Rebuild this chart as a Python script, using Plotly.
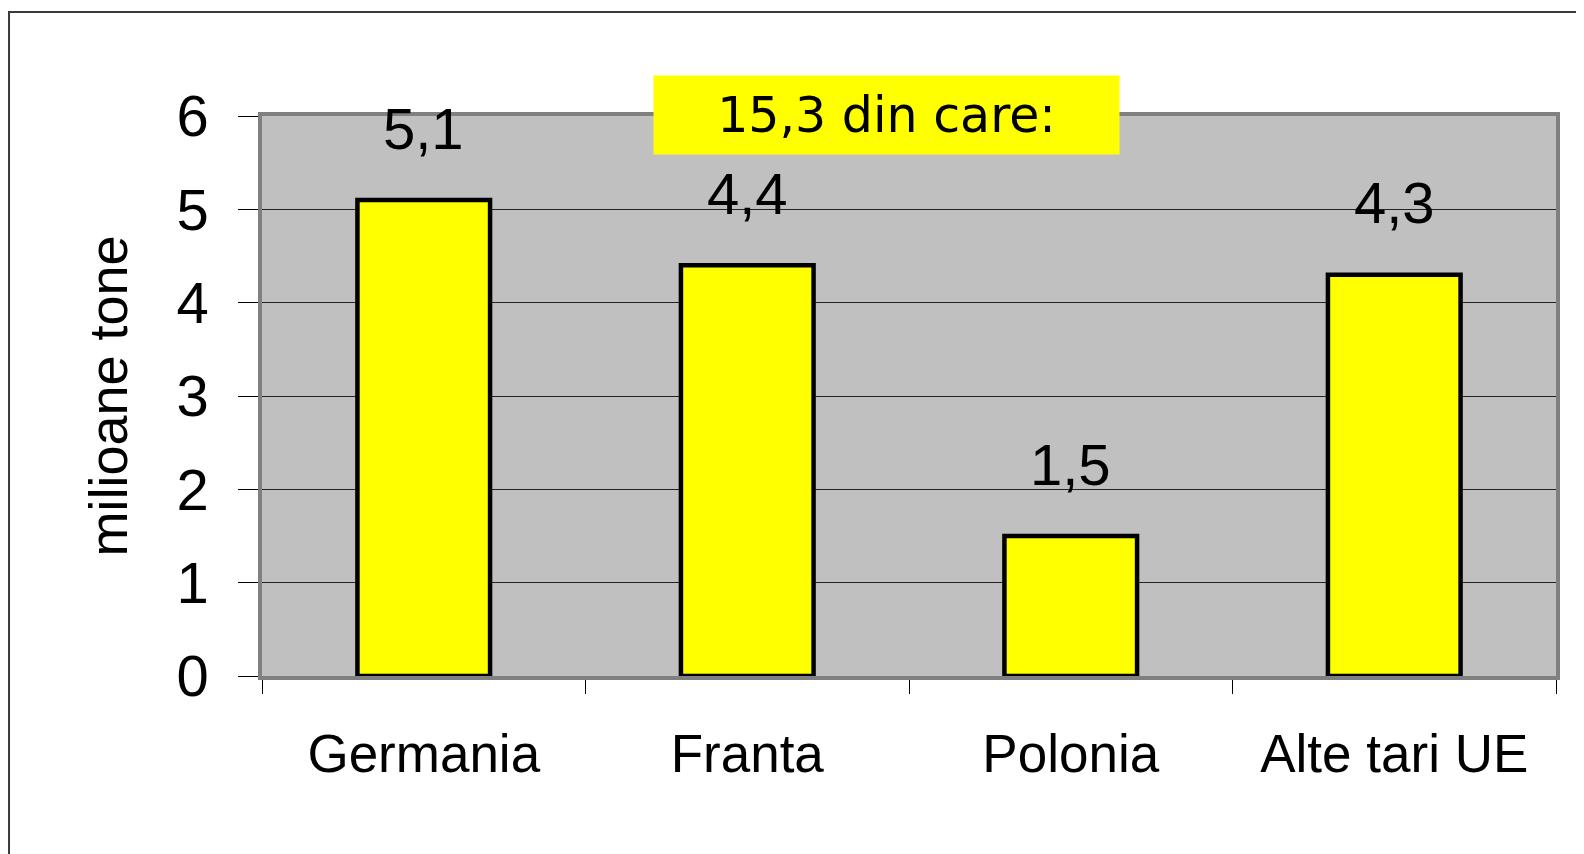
import plotly.graph_objects as go

categories = ["Germania", "Franta", "Polonia", "Alte tari UE"]
values = [5.1, 4.4, 1.5, 4.3]
total_label = "15,3 din care:"
y_title = "milioane tone"
y_ticks = [0, 1, 2, 3, 4, 5, 6]

ARIAL = "Liberation Sans, Arial, sans-serif"
VERDANA = "DejaVu Sans, Verdana, sans-serif"

fig = go.Figure()
fig.add_trace(go.Bar(
    x=categories, y=values,
    width=0.41,
    marker=dict(color="#FFFF00", line=dict(color="#000000", width=4.5)),
    hoverinfo="x+y",
))

annotations = []
for c, v in zip(categories, values):
    annotations.append(dict(
        x=c, y=v, xref="x", yref="y",
        text=f"{v:.1f}".replace(".", ","),
        showarrow=False, yanchor="middle", yshift=72,
        font=dict(family=ARIAL, size=58, color="#000000"),
    ))

annotations.append(dict(
    xref="paper", yref="paper", x=0.4826, y=1.0018,
    xanchor="center", yanchor="middle",
    text=total_label, showarrow=False,
    bgcolor="#FFFF00", width=465, height=78, borderpad=0,
    font=dict(family=VERDANA, size=49, color="#000000"),
))

fig.update_layout(
    width=1584, height=854,
    margin=dict(l=254, r=36, t=108, b=186),
    paper_bgcolor="#FFFFFF",
    plot_bgcolor="#C0C0C0",
    showlegend=False,
    annotations=annotations,
    shapes=[dict(
        type="rect", xref="paper", yref="paper",
        x0=-0.1955, x1=1.04, y0=-0.4, y1=1.1857,
        line=dict(color="#3a3a3a", width=2), fillcolor="rgba(0,0,0,0)",
        layer="below",
    )],
)

fig.update_xaxes(
    type="category",
    showline=True, linecolor="#808080", linewidth=3.5, mirror=True,
    showgrid=False,
    ticks="outside", tickson="boundaries", ticklen=14, tickwidth=1, tickcolor="#000000",
    tickfont=dict(family=ARIAL, size=53, color="#000000"),
    ticklabelstandoff=29,
)

fig.update_yaxes(
    range=[0, 6], tickvals=y_ticks, ticktext=[str(t) for t in y_ticks],
    showline=True, linecolor="#808080", linewidth=3.5, mirror=True,
    showgrid=True, gridcolor="#222222", gridwidth=1,
    zeroline=True, zerolinecolor="#000000", zerolinewidth=1,
    ticks="outside", ticklen=20, tickwidth=1, tickcolor="#000000",
    tickfont=dict(family=ARIAL, size=58, color="#000000"),
    ticklabelstandoff=18,
    title=dict(text=y_title, font=dict(family=ARIAL, size=54, color="#000000"), standoff=32),
)

fig.write_html("out.html")
